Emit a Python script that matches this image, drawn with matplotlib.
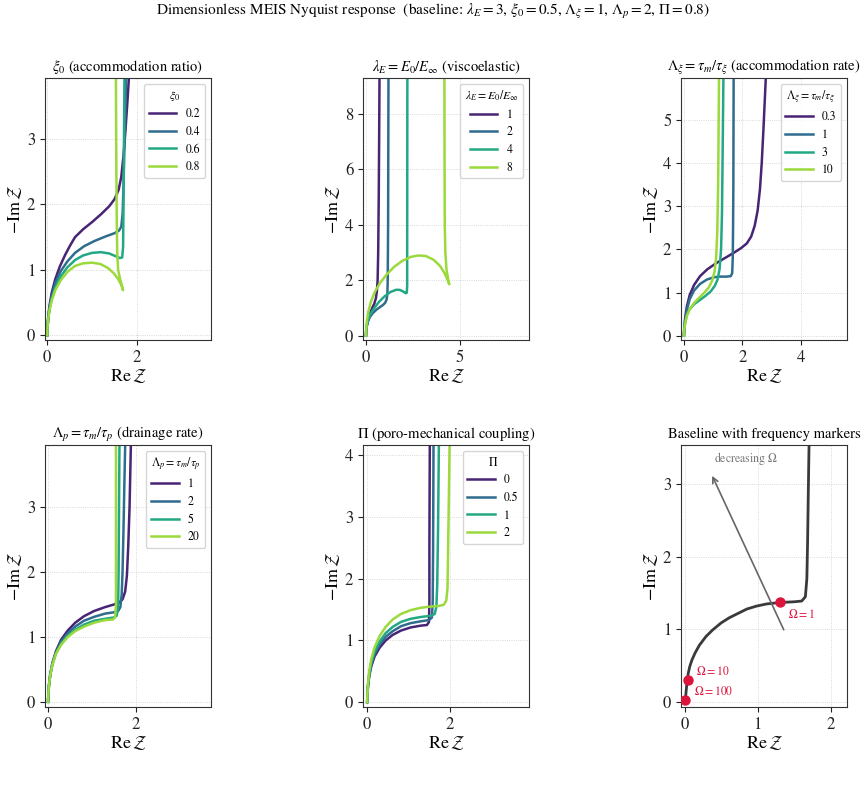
import numpy as np
import matplotlib
matplotlib.use("Agg")
from matplotlib import pyplot as plt

plt.rcParams["font.family"] = ["STIXGeneral", "DejaVu Serif"]
plt.rcParams["mathtext.fontset"] = "stix"

# ---- data (Re Z, -Im Z) ----
# panel 1: xi_0
xi0_labels = ["0.2", "0.4", "0.6", "0.8"]
xi0_re = [
    [0, 0.005, 0.02, 0.05, 0.1, 0.18, 0.28, 0.4, 0.5, 0.62, 0.8, 1.0, 1.2, 1.38, 1.5, 1.59, 1.65, 1.7, 1.74, 1.78, 1.82],
    [0, 0.005, 0.02, 0.05, 0.1, 0.18, 0.3, 0.45, 0.62, 0.82, 1.05, 1.3, 1.5, 1.6, 1.65, 1.68, 1.7, 1.72, 1.74, 1.76],
    [0, 0.005, 0.02, 0.05, 0.1, 0.18, 0.3, 0.45, 0.62, 0.8, 1.0, 1.2, 1.38, 1.52, 1.62, 1.67, 1.69, 1.7, 1.71, 1.72],
    [0, 0.005, 0.02, 0.05, 0.1, 0.18, 0.3, 0.45, 0.62, 0.8, 1.0, 1.18, 1.35, 1.48, 1.58, 1.65, 1.69, 1.68, 1.63, 1.58, 1.56, 1.55, 1.54, 1.53],
]
xi0_im = [
    [0, 0.1, 0.25, 0.45, 0.65, 0.86, 1.05, 1.23, 1.36, 1.5, 1.62, 1.73, 1.85, 1.97, 2.08, 2.22, 2.42, 2.75, 3.1, 3.5, 3.93],
    [0, 0.1, 0.25, 0.42, 0.6, 0.8, 0.98, 1.13, 1.26, 1.36, 1.44, 1.51, 1.56, 1.6, 1.66, 1.85, 2.3, 2.9, 3.4, 3.93],
    [0, 0.1, 0.24, 0.4, 0.56, 0.73, 0.9, 1.04, 1.15, 1.22, 1.26, 1.27, 1.25, 1.21, 1.18, 1.19, 1.35, 2.0, 3.0, 3.93],
    [0, 0.1, 0.23, 0.38, 0.53, 0.69, 0.84, 0.97, 1.06, 1.1, 1.11, 1.09, 1.03, 0.95, 0.86, 0.77, 0.69, 0.72, 0.84, 1.0, 1.25, 1.7, 2.5, 3.93],
]

# panel 2: lambda_E
lamE_labels = ["1", "2", "4", "8"]
lamE_re = [
    [0, 0.01, 0.04, 0.1, 0.2, 0.32, 0.44, 0.53, 0.58, 0.62, 0.65, 0.68, 0.7, 0.72],
    [0, 0.01, 0.04, 0.1, 0.2, 0.35, 0.55, 0.75, 0.9, 1.02, 1.1, 1.14, 1.16, 1.18, 1.2],
    [0, 0.01, 0.05, 0.12, 0.25, 0.45, 0.7, 1.0, 1.3, 1.6, 1.8, 1.98, 2.12, 2.18, 2.2, 2.2, 2.21],
    [0, 0.01, 0.05, 0.12, 0.25, 0.45, 0.75, 1.1, 1.5, 1.95, 2.4, 2.8, 3.2, 3.6, 3.95, 4.2, 4.38, 4.45, 4.4, 4.3, 4.24, 4.21, 4.2, 4.19],
]
lamE_im = [
    [0, 0.15, 0.35, 0.55, 0.78, 0.98, 1.15, 1.35, 1.6, 2.0, 3, 5, 7, 9.3],
    [0, 0.15, 0.33, 0.5, 0.66, 0.8, 0.93, 1.03, 1.1, 1.18, 1.3, 1.5, 2.0, 4, 9.3],
    [0, 0.18, 0.4, 0.6, 0.8, 1.0, 1.22, 1.42, 1.57, 1.65, 1.65, 1.59, 1.53, 1.55, 1.8, 3, 9.3],
    [0, 0.25, 0.55, 0.85, 1.2, 1.55, 1.9, 2.2, 2.48, 2.7, 2.84, 2.89, 2.87, 2.74, 2.52, 2.25, 1.98, 1.85, 2.0, 2.4, 3.0, 4, 6, 9.3],
]

# panel 3: Lambda_xi
lamxi_labels = ["0.3", "1", "3", "10"]
lamxi_re = [
    [0, 0.01, 0.04, 0.1, 0.2, 0.35, 0.55, 0.8, 1.1, 1.4, 1.7, 1.95, 2.15, 2.3, 2.42, 2.52, 2.6, 2.66, 2.72, 2.8],
    [0, 0.01, 0.04, 0.1, 0.2, 0.35, 0.55, 0.78, 1.0, 1.2, 1.45, 1.6, 1.65, 1.67, 1.68, 1.69, 1.7],
    [0, 0.01, 0.04, 0.1, 0.2, 0.35, 0.55, 0.75, 0.92, 1.05, 1.15, 1.22, 1.27, 1.3, 1.32, 1.35],
    [0, 0.01, 0.04, 0.1, 0.2, 0.35, 0.52, 0.7, 0.85, 0.97, 1.05, 1.1, 1.14, 1.17, 1.2],
]
lamxi_im = [
    [0, 0.15, 0.4, 0.68, 0.95, 1.18, 1.38, 1.54, 1.68, 1.8, 1.92, 2.03, 2.14, 2.3, 2.55, 2.9, 3.4, 4.0, 4.8, 5.98],
    [0, 0.15, 0.35, 0.6, 0.85, 1.05, 1.2, 1.3, 1.35, 1.37, 1.37, 1.38, 1.45, 1.8, 2.5, 3.5, 5.98],
    [0, 0.12, 0.3, 0.48, 0.62, 0.73, 0.83, 0.93, 1.03, 1.15, 1.3, 1.55, 2.0, 2.8, 4, 5.98],
    [0, 0.12, 0.28, 0.46, 0.62, 0.76, 0.88, 1.0, 1.12, 1.28, 1.5, 1.8, 2.4, 3.5, 5.98],
]

# panel 4: Lambda_p
lamp_labels = ["1", "2", "5", "20"]
lamp_re = [
    [0, 0.005, 0.02, 0.05, 0.1, 0.18, 0.3, 0.45, 0.62, 0.82, 1.05, 1.3, 1.5, 1.62, 1.7, 1.76, 1.8, 1.83, 1.86, 1.89],
    [0, 0.005, 0.02, 0.05, 0.1, 0.18, 0.3, 0.45, 0.62, 0.82, 1.05, 1.3, 1.5, 1.6, 1.65, 1.68, 1.7, 1.72, 1.74, 1.76],
    [0, 0.005, 0.02, 0.05, 0.1, 0.18, 0.3, 0.45, 0.62, 0.82, 1.05, 1.3, 1.5, 1.57, 1.6, 1.61, 1.62, 1.63],
    [0, 0.005, 0.02, 0.05, 0.1, 0.18, 0.3, 0.45, 0.62, 0.82, 1.05, 1.3, 1.48, 1.53, 1.55, 1.55, 1.55, 1.55],
]
lamp_im = [
    [0, 0.1, 0.25, 0.42, 0.6, 0.78, 0.96, 1.1, 1.22, 1.32, 1.4, 1.46, 1.5, 1.53, 1.58, 1.7, 1.95, 2.4, 3.0, 3.96],
    [0, 0.1, 0.25, 0.42, 0.59, 0.76, 0.93, 1.06, 1.16, 1.25, 1.31, 1.36, 1.38, 1.4, 1.46, 1.65, 2.0, 2.6, 3.3, 3.96],
    [0, 0.1, 0.25, 0.41, 0.58, 0.75, 0.9, 1.02, 1.11, 1.19, 1.25, 1.28, 1.3, 1.33, 1.5, 2.0, 3.0, 3.96],
    [0, 0.1, 0.25, 0.41, 0.57, 0.74, 0.88, 1.0, 1.09, 1.16, 1.22, 1.26, 1.27, 1.3, 1.5, 2.0, 3.0, 3.96],
]

# panel 5: Pi
pi_labels = ["0", "0.5", "1", "2"]
pi_re = [
    [0, 0.005, 0.02, 0.05, 0.1, 0.18, 0.3, 0.45, 0.62, 0.82, 1.05, 1.3, 1.45, 1.5, 1.51, 1.51, 1.52],
    [0, 0.005, 0.02, 0.05, 0.1, 0.18, 0.3, 0.45, 0.62, 0.82, 1.05, 1.3, 1.5, 1.57, 1.59, 1.6, 1.61],
    [0, 0.005, 0.02, 0.05, 0.1, 0.18, 0.3, 0.45, 0.62, 0.82, 1.05, 1.3, 1.55, 1.64, 1.68, 1.7, 1.72, 1.74],
    [0, 0.005, 0.02, 0.05, 0.1, 0.18, 0.3, 0.45, 0.62, 0.82, 1.05, 1.3, 1.55, 1.75, 1.86, 1.92, 1.95, 1.96, 1.98, 2.0],
]
pi_im = [
    [0, 0.1, 0.25, 0.42, 0.58, 0.74, 0.88, 1.0, 1.09, 1.16, 1.21, 1.24, 1.25, 1.3, 1.6, 2.5, 4.17],
    [0, 0.1, 0.26, 0.44, 0.61, 0.78, 0.93, 1.06, 1.15, 1.23, 1.28, 1.31, 1.33, 1.37, 1.6, 2.5, 4.17],
    [0, 0.11, 0.27, 0.46, 0.64, 0.82, 0.98, 1.12, 1.22, 1.3, 1.35, 1.38, 1.4, 1.43, 1.55, 1.9, 2.8, 4.17],
    [0, 0.12, 0.3, 0.5, 0.7, 0.89, 1.07, 1.22, 1.34, 1.43, 1.49, 1.53, 1.55, 1.56, 1.58, 1.65, 1.85, 2.3, 3.2, 4.17],
]

# panel 6: baseline and marked frequencies
base_re = [0, 0.01, 0.02, 0.035, 0.05, 0.07, 0.1, 0.14, 0.2, 0.29, 0.38, 0.5, 0.61, 0.73, 0.85, 0.98, 1.12, 1.3, 1.5, 1.6, 1.65, 1.67, 1.68, 1.69, 1.7]
base_im = [0, 0.03, 0.15, 0.3, 0.4, 0.49, 0.58, 0.67, 0.78, 0.9, 0.99, 1.09, 1.16, 1.22, 1.28, 1.32, 1.35, 1.37, 1.38, 1.39, 1.45, 1.7, 2.2, 2.9, 3.55]
mark_labels = [r"$\Omega=1$", r"$\Omega=10$", r"$\Omega=100$"]
mark_re = [1.3, 0.045, 0.01]
mark_im = [1.37, 0.30, 0.03]

panels = [
    (r"$\xi_0$ (accommodation ratio)", r"$\xi_0$", xi0_labels, xi0_re, xi0_im, (-0.05, 3.65), (-0.07, 3.93)),
    (r"$\lambda_E=E_0/E_\infty$ (viscoelastic)", r"$\lambda_E=E_0/E_\infty$", lamE_labels, lamE_re, lamE_im, (-0.16, 8.72), (-0.16, 9.3)),
    (r"$\Lambda_\xi=\tau_m/\tau_\xi$ (accommodation rate)", r"$\Lambda_\xi=\tau_m/\tau_\xi$", lamxi_labels, lamxi_re, lamxi_im, (-0.1, 5.58), (-0.1, 5.98)),
    (r"$\Lambda_p=\tau_m/\tau_p$ (drainage rate)", r"$\Lambda_p=\tau_m/\tau_p$", lamp_labels, lamp_re, lamp_im, (-0.07, 3.72), (-0.08, 3.96)),
    (r"$\Pi$ (poro-mechanical coupling)", r"$\Pi$", pi_labels, pi_re, pi_im, (-0.1, 3.93), (-0.08, 4.17)),
]

fig = plt.figure(figsize=(8.65, 7.99), dpi=100)
fig.suptitle(r"Dimensionless MEIS Nyquist response  (baseline: $\lambda_E=3$, $\xi_0=0.5$, $\Lambda_\xi=1$, $\Lambda_p=2$, $\Pi=0.8$)",
             fontsize=11, y=0.985, va="center")

lefts = [0.052, 0.4197, 0.7873]
bottoms = [0.5745, 0.1151]
w, h = 0.192, 0.328
colors = plt.cm.viridis(np.linspace(0.1, 0.85, 4))


def style(ax):
    ax.grid(True, ls=":", lw=0.6, color="#cccccc")
    ax.set_axisbelow(True)
    for s in ax.spines.values():
        s.set_color("#333333")
    ax.tick_params(labelsize=12, colors="#222222")
    ax.set_xlabel(r"$\mathrm{Re}\,\mathcal{Z}$", fontsize=13, labelpad=1)
    ax.set_ylabel(r"$-\mathrm{Im}\,\mathcal{Z}$", fontsize=13, labelpad=2)


for i, (title, ltitle, labs, xs, ys, xl, yl) in enumerate(panels):
    ax = fig.add_axes([lefts[i % 3], bottoms[i // 3], w, h])
    for k in range(4):
        ax.plot(xs[k], ys[k], color=colors[k], lw=1.8, label=labs[k])
    ax.set_xlim(*xl)
    ax.set_ylim(*yl)
    ax.set_title(title, fontsize=10.5, pad=5)
    style(ax)
    ax.legend(title=ltitle, fontsize=8.5, title_fontsize=8.5, loc="upper right",
              handlelength=2.3)

# baseline panel
ax = fig.add_axes([lefts[2], bottoms[1], w, h])
ax.plot(base_re, base_im, color="#3a3a3a", lw=2)
ax.plot(mark_re, mark_im, "o", color="crimson", ms=6.5, zorder=3)
offs = [(6, -9), (6, 6), (6, 6)]
for lab, x, y, o in zip(mark_labels, mark_re, mark_im, offs):
    ax.annotate(lab, (x, y), xytext=o, textcoords="offset points", color="crimson",
                fontsize=8.5, ha="left", va="center")
ax.annotate("", xy=(0.36, 3.15), xytext=(1.37, 0.96),
            arrowprops=dict(arrowstyle="->", color="#666666", lw=1.2))
ax.text(0.83, 3.36, r"decreasing $\Omega$", color="#777777", fontsize=8.5, ha="center", va="center")
ax.set_xlim(-0.05, 2.22)
ax.set_ylim(-0.07, 3.54)
ax.set_title("Baseline with frequency markers", fontsize=10.5, pad=5)
style(ax)

fig.savefig("out.png", dpi=100)
